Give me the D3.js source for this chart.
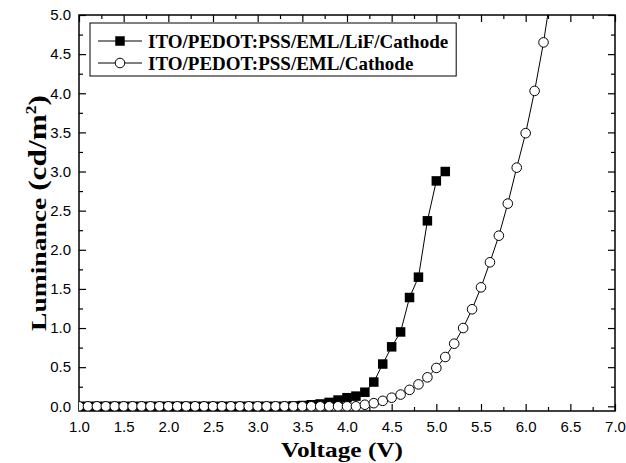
<!DOCTYPE html>
<html>
<head>
<meta charset="utf-8">
<script src="https://cdn.jsdelivr.net/npm/d3@7"></script>
<style>
  body { margin: 0; background: #fff; }
  svg { display: block; }
</style>
</head>
<body>
<svg id="chart"></svg>
<script>
// Voltage (V) for the two devices
const voltageLiF = [1.0, 1.1, 1.2, 1.3, 1.4, 1.5, 1.6, 1.7, 1.8, 1.9, 2.0, 2.1, 2.2, 2.3, 2.4, 2.5, 2.6, 2.7, 2.8, 2.9,
    3.0, 3.1, 3.2, 3.3, 3.4, 3.5, 3.6, 3.7, 3.8, 3.9, 4.0, 4.1, 4.2, 4.3, 4.4, 4.5, 4.6, 4.7, 4.8, 4.9, 5.0, 5.1];
const luminanceLiF = [0, 0, 0, 0, 0, 0, 0, 0, 0, 0, 0, 0, 0, 0, 0, 0, 0, 0, 0, 0,
    0, 0, 0, 0, 0.005, 0.01, 0.02, 0.03, 0.05, 0.08, 0.11, 0.13, 0.18, 0.31, 0.54, 0.76, 0.95, 1.39, 1.65, 2.37, 2.88, 3.00];

const voltageNoLiF = [1.0, 1.1, 1.2, 1.3, 1.4, 1.5, 1.6, 1.7, 1.8, 1.9, 2.0, 2.1, 2.2, 2.3, 2.4, 2.5, 2.6, 2.7, 2.8, 2.9,
    3.0, 3.1, 3.2, 3.3, 3.4, 3.5, 3.6, 3.7, 3.8, 3.9, 4.0, 4.1, 4.2, 4.3, 4.4, 4.5, 4.6, 4.7, 4.8, 4.9,
    5.0, 5.1, 5.2, 5.3, 5.4, 5.5, 5.6, 5.7, 5.8, 5.9, 6.0, 6.1, 6.2, 6.3];
const luminanceNoLiF = [0, 0, 0, 0, 0, 0, 0, 0, 0, 0, 0, 0, 0, 0, 0, 0, 0, 0, 0, 0,
    0, 0, 0, 0, 0, 0, 0, 0, 0, 0, 0, 0, 0.02, 0.04, 0.07, 0.11, 0.15, 0.21, 0.28, 0.37,
    0.49, 0.63, 0.80, 1.00, 1.24, 1.52, 1.84, 2.18, 2.59, 3.05, 3.49, 4.03, 4.65, 5.40];

const seriesNames = ["ITO/PEDOT:PSS/EML/LiF/Cathode", "ITO/PEDOT:PSS/EML/Cathode"];

const xMajor = [1.0, 1.5, 2.0, 2.5, 3.0, 3.5, 4.0, 4.5, 5.0, 5.5, 6.0, 6.5, 7.0];
const xMinor = [1.25, 1.75, 2.25, 2.75, 3.25, 3.75, 4.25, 4.75, 5.25, 5.75, 6.25, 6.75];
const yMajor = [0.0, 0.5, 1.0, 1.5, 2.0, 2.5, 3.0, 3.5, 4.0, 4.5, 5.0];
const yMinor = [0.25, 0.75, 1.25, 1.75, 2.25, 2.75, 3.25, 3.75, 4.25, 4.75];

// Chart dimensions
const width = 626;
const height = 463;
const marginTop = 15;
const marginRight = 11;
const marginBottom = 52;
const marginLeft = 79;

const x = d3.scaleLinear([1, 7], [marginLeft, width - marginRight]);
const y = d3.scaleLinear([-0.06, 5], [height - marginBottom, marginTop]);

const svg = d3.select("#chart")
    .attr("width", width)
    .attr("height", height)
    .attr("viewBox", [0, 0, width, height]);

const tickFont = "'Liberation Sans', Arial, sans-serif";
const titleFont = "'Liberation Serif', 'Times New Roman', serif";

svg.append("defs").append("clipPath")
    .attr("id", "plot-clip")
    .append("rect")
    .attr("x", marginLeft)
    .attr("y", marginTop)
    .attr("width", width - marginLeft - marginRight)
    .attr("height", height - marginTop - marginBottom);

// Axes with inward ticks on all four sides
function styleAxis(g) {
    g.select(".domain").remove();
    g.selectAll(".tick line").attr("stroke", "#000").attr("stroke-width", 1.2);
    g.selectAll("text").attr("font-family", tickFont).attr("font-size", 15).attr("fill", "#000");
}

svg.append("g")
    .attr("transform", `translate(0,${height - marginBottom})`)
    .call(d3.axisBottom(x).tickValues(xMajor).tickSize(-7).tickPadding(10).tickFormat(d3.format(".1f")))
    .call(styleAxis);
svg.append("g")
    .attr("transform", `translate(0,${height - marginBottom})`)
    .call(d3.axisBottom(x).tickValues(xMinor).tickSize(-4).tickFormat(""))
    .call(styleAxis);
svg.append("g")
    .attr("transform", `translate(0,${marginTop})`)
    .call(d3.axisTop(x).tickValues(xMajor).tickSize(-7).tickFormat(""))
    .call(styleAxis);
svg.append("g")
    .attr("transform", `translate(0,${marginTop})`)
    .call(d3.axisTop(x).tickValues(xMinor).tickSize(-4).tickFormat(""))
    .call(styleAxis);

svg.append("g")
    .attr("transform", `translate(${marginLeft},0)`)
    .call(d3.axisLeft(y).tickValues(yMajor).tickSize(-7).tickPadding(8).tickFormat(d3.format(".1f")))
    .call(styleAxis);
svg.append("g")
    .attr("transform", `translate(${marginLeft},0)`)
    .call(d3.axisLeft(y).tickValues(yMinor).tickSize(-4).tickFormat(""))
    .call(styleAxis);
svg.append("g")
    .attr("transform", `translate(${width - marginRight},0)`)
    .call(d3.axisRight(y).tickValues(yMajor).tickSize(-7).tickFormat(""))
    .call(styleAxis);
svg.append("g")
    .attr("transform", `translate(${width - marginRight},0)`)
    .call(d3.axisRight(y).tickValues(yMinor).tickSize(-4).tickFormat(""))
    .call(styleAxis);

// Frame
svg.append("rect")
    .attr("x", marginLeft)
    .attr("y", marginTop)
    .attr("width", width - marginLeft - marginRight)
    .attr("height", height - marginTop - marginBottom)
    .attr("fill", "none")
    .attr("stroke", "#000")
    .attr("stroke-width", 1.5);

// Data
const dataLiF = voltageLiF.map((v, i) => ({ v, l: luminanceLiF[i] }));
const dataNoLiF = voltageNoLiF.map((v, i) => ({ v, l: luminanceNoLiF[i] }));

const line = d3.line()
    .x(d => x(d.v))
    .y(d => y(d.l));

const plot = svg.append("g").attr("clip-path", "url(#plot-clip)");

const sq = 9.5;
plot.append("path")
    .attr("fill", "none")
    .attr("stroke", "#000")
    .attr("stroke-width", 1)
    .attr("d", line(dataLiF));
plot.append("g")
    .selectAll("rect")
    .data(dataLiF)
    .join("rect")
    .attr("x", d => x(d.v) - sq / 2)
    .attr("y", d => y(d.l) - sq / 2)
    .attr("width", sq)
    .attr("height", sq)
    .attr("fill", "#000");

plot.append("path")
    .attr("fill", "none")
    .attr("stroke", "#000")
    .attr("stroke-width", 1)
    .attr("d", line(dataNoLiF));
plot.append("g")
    .selectAll("circle")
    .data(dataNoLiF)
    .join("circle")
    .attr("cx", d => x(d.v))
    .attr("cy", d => y(d.l))
    .attr("r", 4.8)
    .attr("fill", "#fff")
    .attr("stroke", "#000")
    .attr("stroke-width", 1);

// Legend
const legend = svg.append("g");
const legendRows = [41, 63];
const legendText = legend.selectAll("text")
    .data(seriesNames)
    .join("text")
    .attr("x", 148)
    .attr("y", (d, i) => legendRows[i] + 6.5)
    .attr("font-family", titleFont)
    .attr("font-weight", "bold")
    .attr("font-size", 19)
    .text(d => d);

legend.selectAll("line")
    .data(seriesNames)
    .join("line")
    .attr("x1", 98)
    .attr("x2", 142)
    .attr("y1", (d, i) => legendRows[i])
    .attr("y2", (d, i) => legendRows[i])
    .attr("stroke", "#000")
    .attr("stroke-width", 1);

legend.append("rect")
    .attr("x", 120 - sq / 2)
    .attr("y", legendRows[0] - sq / 2)
    .attr("width", sq)
    .attr("height", sq)
    .attr("fill", "#000");
legend.append("circle")
    .attr("cx", 120)
    .attr("cy", legendRows[1])
    .attr("r", 4.8)
    .attr("fill", "#fff")
    .attr("stroke", "#000");

const textRight = d3.max(legendText.nodes(), n => n.getBBox().x + n.getBBox().width);
legend.insert("rect", ":first-child")
    .attr("x", 90)
    .attr("y", 23)
    .attr("width", textRight + 8 - 90)
    .attr("height", 53)
    .attr("fill", "#fff")
    .attr("stroke", "#000")
    .attr("stroke-width", 1);

// Axis titles
svg.append("text")
    .attr("x", 342)
    .attr("y", 457)
    .attr("text-anchor", "middle")
    .attr("font-family", titleFont)
    .attr("font-weight", "bold")
    .attr("font-size", 22)
    .attr("textLength", 122)
    .attr("lengthAdjust", "spacingAndGlyphs")
    .text("Voltage (V)");

const yTitle = svg.append("text")
    .attr("transform", `translate(46,${(marginTop + height - marginBottom) / 2}) rotate(-90)`)
    .attr("text-anchor", "middle")
    .attr("font-family", titleFont)
    .attr("font-weight", "bold")
    .attr("font-size", 22)
    .attr("textLength", 236)
    .attr("lengthAdjust", "spacingAndGlyphs");
yTitle.append("tspan").text("Luminance ");
yTitle.append("tspan").attr("font-size", 25).text("(cd/m");
yTitle.append("tspan").attr("font-size", 14).attr("dy", -10).text("2");
yTitle.append("tspan").attr("font-size", 25).attr("dy", 10).text(")");
</script>
</body>
</html>
